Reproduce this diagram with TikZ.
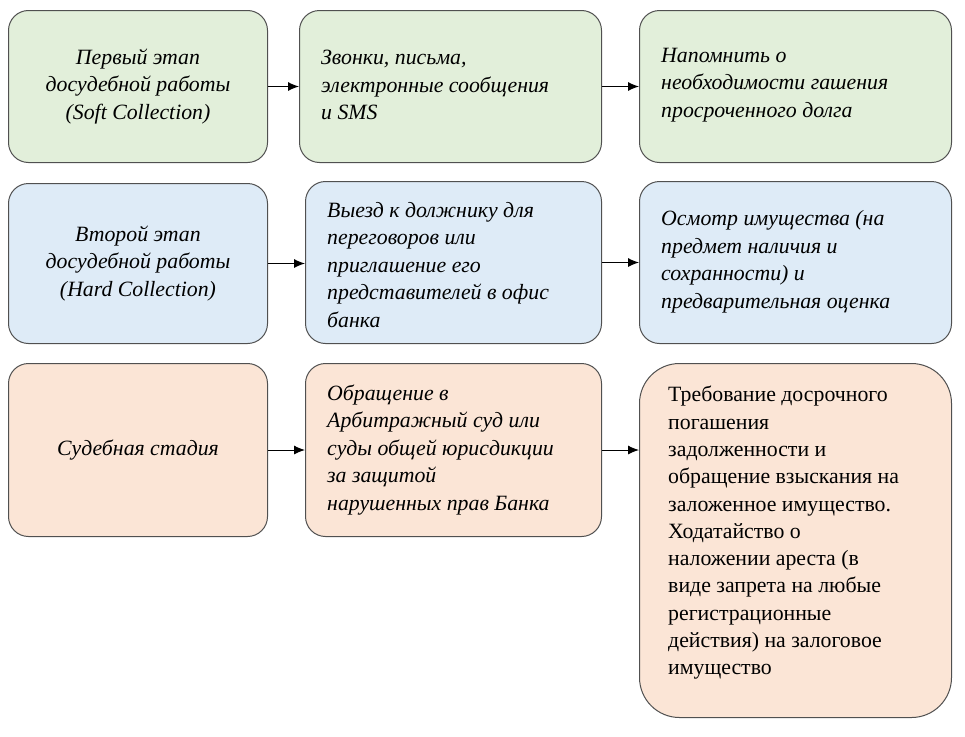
\documentclass[tikz,border=0pt]{standalone}
\usepackage{fontspec}
\setmainfont{Liberation Serif}
\usetikzlibrary{arrows.meta}
\definecolor{gr}{HTML}{E2EFDA}
\definecolor{bl}{HTML}{DEEBF7}
\definecolor{pe}{HTML}{FBE5D6}
\definecolor{bd}{HTML}{505050}
\begin{document}
\begin{tikzpicture}[x=1pt,y=-1pt,
  box/.style={draw=bd,line width=1pt,rounded corners=20pt,anchor=north west,inner sep=0pt,
    font=\fontsize{21.8}{27.5}\selectfont\itshape},
  lbox/.style={box,align=left},
  cbox/.style={box,align=center},
  txt/.style={align=left,anchor=west,inner sep=0pt,font=\fontsize{21.8}{27.5}\selectfont\itshape},
  arr/.style={-{Latex[length=11pt,width=9pt]},line width=1pt,black}]
\fill[white] (0,0) rectangle (965,736);
\useasboundingbox (0,0) rectangle (965,736);
\node[cbox,fill=gr,minimum width=259pt,minimum height=152pt] (a1) at (8,10)
  {Первый этап\\досудебной работы\\(Soft Collection)};
\node[box,fill=gr,minimum width=302pt,minimum height=152pt] (b1) at (299,10) {};
\node[txt] at (321,85) {Звонки, письма,\\электронные сообщения\\и SMS};
\node[box,fill=gr,minimum width=312pt,minimum height=152pt] (c1) at (639,10) {};
\node[txt] at (661,85) {Напомнить о\\необходимости гашения\\просроченного долга};
\node[cbox,fill=bl,minimum width=259pt,minimum height=160pt] (a2) at (8,183)
  {Второй этап\\досудебной работы\\(Hard Collection)};
\node[box,fill=bl,minimum width=296pt,minimum height=162pt] (b2) at (305,181) {};
\node[txt] at (327,265) {Выезд к должнику для\\переговоров или\\приглашение его\\представителей в офис\\банка};
\node[box,fill=bl,minimum width=312pt,minimum height=162pt] (c2) at (639,181) {};
\node[txt] at (661,262) {Осмотр имущества (на\\предмет наличия и\\сохранности) и\\предварительная оценка};
\node[cbox,fill=pe,minimum width=259pt,minimum height=173pt] (a3) at (8,363)
  {Судебная стадия};
\node[box,fill=pe,minimum width=296pt,minimum height=173pt] (b3) at (305,363) {};
\node[txt] at (327,450) {Обращение в\\Арбитражный суд или\\суды общей юрисдикции\\за защитой\\нарушенных прав Банка};
\node[box,rounded corners=40pt,fill=pe,minimum width=312pt,minimum height=354pt] (c3) at (639,363) {};
\node[align=left,anchor=north west,inner sep=0pt,font=\fontsize{21.8}{27.3}\selectfont] at (668,386)
  {Требование досрочного\\погашения\\задолженности и\\обращение взыскания на\\заложенное имущество.\\Ходатайство о\\наложении ареста (в\\виде запрета на любые\\регистрационные\\действия) на залоговое\\имущество};
\draw[arr] (a1.east) -- (b1.west);
\draw[arr] (b1.east) -- (c1.west);
\draw[arr] (a2.east) -- (a2.east -| b2.west);
\draw[arr] (b2.east) -- (b2.east -| c2.west);
\draw[arr] (a3.east) -- (b3.west);
\draw[arr] (b3.east) -- (b3.east -| c3.west);
\end{tikzpicture}
\end{document}
